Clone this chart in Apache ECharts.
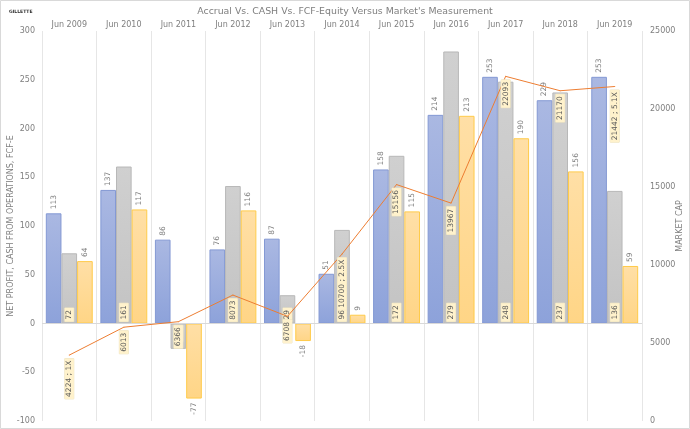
<!DOCTYPE html>
<html>
<head>
<meta charset="utf-8">
<script src="https://cdn.jsdelivr.net/npm/echarts@6/dist/echarts.min.js"></script>
<style>
html,body{margin:0;padding:0;background:#fff;}
#c{width:690px;height:429px;}
</style>
</head>
<body>
<div id="c"></div>
<script>
const categories = ["Jun 2009","Jun 2010","Jun 2011","Jun 2012","Jun 2013","Jun 2014","Jun 2015","Jun 2016","Jun 2017","Jun 2018","Jun 2019"];
const netProfit = [113,137,86,76,87,51,158,214,253,229,253];
const cashOps = [72,161,-26,141,29,96,172,279,248,237,136];
const fcfe = [64,117,-77,116,-18,9,115,213,190,156,59];
const marketCap = [4224,6013,6366,8073,6708,10700,15156,13967,22093,21170,21442];
const multiples = ["1X","","","","","2.5X","","","","","5.1X"];
const leftTicks = {min:-100,max:300,interval:50};
const rightTicks = {min:0,max:25000,interval:5000};

const FONT = "DejaVu Sans";
const txt = "#7f7f7f";
const chart = echarts.init(document.getElementById('c'));

const outsideLabel = {show:true, position:'top', rotate:90, align:'left', verticalAlign:'middle', distance:4, fontSize:7.5, color:txt, fontFamily:FONT};
function outsideData(arr){
  return arr.map(v => v < 0 ? {value:v, label:{position:'bottom', align:'right'}} : v);
}
const boxLabel = {backgroundColor:'#FFF2CC', borderColor:'#EDE3C0', borderWidth:0.5, padding:[1,2,0,2], fontSize:7.5, color:'#595959', fontFamily:FONT};

chart.setOption({
  animation:false,
  textStyle:{fontFamily:FONT},
  title:[
    {text:"Accrual Vs. CASH Vs. FCF-Equity Versus Market's Measurement", left:'center', top:2, textStyle:{fontSize:9.4, fontWeight:'normal', color:txt, fontFamily:FONT}},
    {text:"GILLETTE", left:4, top:4, textStyle:{fontSize:4.5, fontWeight:'bold', color:'#333', fontFamily:FONT}}
  ],
  graphic:[{type:'rect', shape:{x:0.5,y:0.5,width:689,height:428}, style:{fill:'none', stroke:'#D9D9D9', lineWidth:1}, silent:true}],
  grid:{left:42, right:48, top:31, bottom:8, containLabel:false, outerBoundsMode:'none'},
  xAxis:{type:'category', data:categories, position:'top',
    axisLine:{show:false}, axisTick:{show:false},
    axisLabel:{fontSize:8, color:txt, margin:2, fontFamily:FONT},
    splitLine:{show:true, lineStyle:{color:'#E6E6E6', width:1}}},
  yAxis:[
    {type:'value', min:leftTicks.min, max:leftTicks.max, interval:leftTicks.interval,
     name:'NET PROFIT, CASH FROM OPERATIONS, FCF-E', nameLocation:'middle', nameRotate:90, nameGap:27, nameMoveOverlap:false,
     nameTextStyle:{fontSize:8, color:txt, fontFamily:FONT},
     axisLine:{show:false}, axisTick:{show:false}, splitLine:{show:false},
     axisLabel:{fontSize:8, color:txt, margin:7, fontFamily:FONT, formatter:v => String(v)}},
    {type:'value', min:rightTicks.min, max:rightTicks.max, interval:rightTicks.interval,
     name:'MARKET CAP', nameLocation:'middle', nameRotate:90, nameGap:34, nameMoveOverlap:false,
     nameTextStyle:{fontSize:8, color:txt, fontFamily:FONT},
     axisLine:{show:false}, axisTick:{show:false}, splitLine:{show:false},
     axisLabel:{fontSize:8, color:txt, margin:8, fontFamily:FONT, formatter:v => String(v)}}
  ],
  series:[
    {name:'Net Profit', type:'bar', data:outsideData(netProfit), barGap:'0%', barCategoryGap:'14%',
     itemStyle:{color:new echarts.graphic.LinearGradient(0,0,0,1,[{offset:0,color:'#AAB8E2'},{offset:1,color:'#8DA2DA'}]), borderColor:'#8499D4', borderWidth:1},
     label:outsideLabel,
     markLine:{silent:true, symbol:'none', label:{show:false}, lineStyle:{color:'#D9D9D9', type:'solid', width:1}, data:[{yAxis:0}]}},
    {name:'Cash From Operations', type:'bar', data:cashOps.map(v => v < 0 ? {value:v, label:{position:'insideTop', align:'right'}} : v),
     itemStyle:{color:new echarts.graphic.LinearGradient(0,0,0,1,[{offset:0,color:'#D0D0D0'},{offset:1,color:'#C3C3C3'}]), borderColor:'#B8B8B8', borderWidth:1},
     label:Object.assign({show:true, position:'insideBottom', rotate:90, align:'left', verticalAlign:'middle', distance:2}, boxLabel)},
    {name:'FCF-E', type:'bar', data:outsideData(fcfe),
     itemStyle:{color:new echarts.graphic.LinearGradient(0,0,0,1,[{offset:0,color:'#FFDFA6'},{offset:1,color:'#FFD586'}]), borderColor:'#FFCB4A', borderWidth:1},
     label:outsideLabel},
    {name:'Market Cap', type:'line', yAxisIndex:1, data:marketCap, z:5,
     symbol:'circle', symbolSize:1, itemStyle:{color:'#ED7D31'},
     lineStyle:{color:'#ED7D31', width:1},
     label:Object.assign({show:true, position:'bottom', rotate:90, align:'right', verticalAlign:'middle', distance:3,
       formatter:p => multiples[p.dataIndex] ? p.value + ' ; ' + multiples[p.dataIndex] : String(p.value)}, boxLabel)}
  ]
});
</script>
</body>
</html>
